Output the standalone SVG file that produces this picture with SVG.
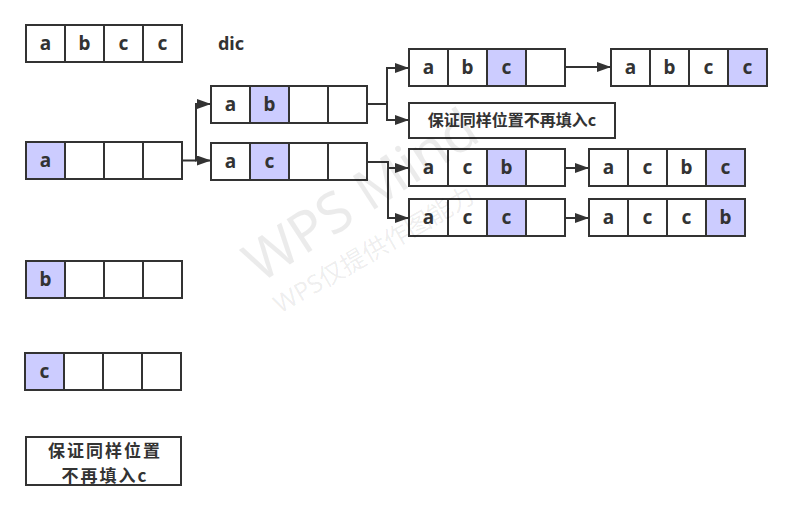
<svg xmlns="http://www.w3.org/2000/svg" width="791" height="509" viewBox="0 0 791 509">
<defs>
<style>
.c{fill:#fff;stroke:#333;stroke-width:2}
.h{fill:#ccccff;stroke:#333;stroke-width:2}
.t{font-family:"Noto Sans","Liberation Sans",sans-serif;font-weight:bold;font-size:19px;fill:#333;text-anchor:middle}
.n{font-family:"Noto Sans CJK SC","Noto Sans",sans-serif;font-weight:bold;fill:#333;text-anchor:middle}
.l{fill:none;stroke:#333;stroke-width:2}
.w{font-family:"Noto Sans","Noto Sans CJK SC",sans-serif;fill:#000;fill-opacity:0.08}
</style>
<marker id="ar" markerWidth="14" markerHeight="10" refX="14" refY="5" orient="auto" markerUnits="userSpaceOnUse">
<path d="M0,0 L14,5 L0,10 Z" fill="#333"/>
</marker>
</defs>
<rect width="791" height="509" fill="#fff"/>

<g id="arr-top">
<rect class="c" x="26" y="25" width="39" height="37"/><rect class="c" x="65" y="25" width="39" height="37"/><rect class="c" x="104" y="25" width="39" height="37"/><rect class="c" x="143" y="25" width="39" height="37"/>
<text class="t" x="45.5" y="50">a</text><text class="t" x="84.5" y="50">b</text><text class="t" x="123.5" y="50">c</text><text class="t" x="162.5" y="50">c</text>
</g>
<g id="dic"><text class="t" x="231" y="50" style="font-size:18px">dic</text></g>

<g id="arr-a">
<rect class="h" x="26" y="142" width="39" height="37"/><rect class="c" x="65" y="142" width="39" height="37"/><rect class="c" x="104" y="142" width="39" height="37"/><rect class="c" x="143" y="142" width="39" height="37"/>
<text class="t" x="45.5" y="167">a</text>
</g>
<g id="arr-b">
<rect class="h" x="26" y="261" width="39" height="37"/><rect class="c" x="65" y="261" width="39" height="37"/><rect class="c" x="104" y="261" width="39" height="37"/><rect class="c" x="143" y="261" width="39" height="37"/>
<text class="t" x="45.5" y="286">b</text>
</g>
<g id="arr-c">
<rect class="h" x="25" y="353" width="39" height="37"/><rect class="c" x="64" y="353" width="39" height="37"/><rect class="c" x="103" y="353" width="39" height="37"/><rect class="c" x="142" y="353" width="39" height="37"/>
<text class="t" x="44.5" y="378">c</text>
</g>
<g id="note-bottom">
<rect class="c" x="26" y="437" width="155" height="48"/>
<text class="n" font-size="17" letter-spacing="2"><tspan x="105" y="457">保证同样位置</tspan><tspan x="105" y="482">不再填入c</tspan></text>
</g>

<g id="arr-ab">
<rect class="c" x="211" y="86" width="39" height="37"/><rect class="h" x="250" y="86" width="39" height="37"/><rect class="c" x="289" y="86" width="39" height="37"/><rect class="c" x="328" y="86" width="39" height="37"/>
<text class="t" x="230.5" y="111">a</text><text class="t" x="269.5" y="111">b</text>
</g>
<g id="arr-ac">
<rect class="c" x="211" y="143" width="39" height="37"/><rect class="h" x="250" y="143" width="39" height="37"/><rect class="c" x="289" y="143" width="39" height="37"/><rect class="c" x="328" y="143" width="39" height="37"/>
<text class="t" x="230.5" y="168">a</text><text class="t" x="269.5" y="168">c</text>
</g>

<g id="arr-abc">
<rect class="c" x="409" y="49" width="39" height="37"/><rect class="c" x="448" y="49" width="39" height="37"/><rect class="h" x="487" y="49" width="39" height="37"/><rect class="c" x="526" y="49" width="39" height="37"/>
<text class="t" x="428.5" y="74">a</text><text class="t" x="467.5" y="74">b</text><text class="t" x="506.5" y="74">c</text>
</g>
<g id="arr-abcc">
<rect class="c" x="611" y="49" width="39" height="37"/><rect class="c" x="650" y="49" width="39" height="37"/><rect class="c" x="689" y="49" width="39" height="37"/><rect class="h" x="728" y="49" width="39" height="37"/>
<text class="t" x="630.5" y="74">a</text><text class="t" x="669.5" y="74">b</text><text class="t" x="708.5" y="74">c</text><text class="t" x="747.5" y="74">c</text>
</g>
<g id="note-top">
<rect class="c" x="409" y="103" width="206" height="35"/>
<text class="n" x="512" y="126" font-size="16">保证同样位置不再填入c</text>
</g>

<g id="arr-acb">
<rect class="c" x="409" y="149" width="39" height="37"/><rect class="c" x="448" y="149" width="39" height="37"/><rect class="h" x="487" y="149" width="39" height="37"/><rect class="c" x="526" y="149" width="39" height="37"/>
<text class="t" x="428.5" y="174">a</text><text class="t" x="467.5" y="174">c</text><text class="t" x="506.5" y="174">b</text>
</g>
<g id="arr-acbc">
<rect class="c" x="589" y="149" width="39" height="37"/><rect class="c" x="628" y="149" width="39" height="37"/><rect class="c" x="667" y="149" width="39" height="37"/><rect class="h" x="706" y="149" width="39" height="37"/>
<text class="t" x="608.5" y="174">a</text><text class="t" x="647.5" y="174">c</text><text class="t" x="686.5" y="174">b</text><text class="t" x="725.5" y="174">c</text>
</g>
<g id="arr-acc">
<rect class="c" x="409" y="199" width="39" height="37"/><rect class="c" x="448" y="199" width="39" height="37"/><rect class="h" x="487" y="199" width="39" height="37"/><rect class="c" x="526" y="199" width="39" height="37"/>
<text class="t" x="428.5" y="224">a</text><text class="t" x="467.5" y="224">c</text><text class="t" x="506.5" y="224">c</text>
</g>
<g id="arr-accb">
<rect class="c" x="589" y="199" width="39" height="37"/><rect class="c" x="628" y="199" width="39" height="37"/><rect class="c" x="667" y="199" width="39" height="37"/><rect class="h" x="706" y="199" width="39" height="37"/>
<text class="t" x="608.5" y="224">a</text><text class="t" x="647.5" y="224">c</text><text class="t" x="686.5" y="224">c</text><text class="t" x="725.5" y="224">b</text>
</g>

<g id="connectors">
<path class="l" d="M182,160.5 H196 M196,103 V161"/>
<path class="l" d="M195,104 H211" marker-end="url(#ar)"/>
<path class="l" d="M195,160.5 H211" marker-end="url(#ar)"/>
<path class="l" d="M367,104 H387 M387,67 V121"/>
<path class="l" d="M386,68 H409" marker-end="url(#ar)"/>
<path class="l" d="M386,120 H409" marker-end="url(#ar)"/>
<path class="l" d="M565,67 H611" marker-end="url(#ar)"/>
<path class="l" d="M367,162 H388 V219"/>
<path class="l" d="M387,168 H409" marker-end="url(#ar)"/>
<path class="l" d="M387,218 H409" marker-end="url(#ar)"/>
<path class="l" d="M565,168 H589" marker-end="url(#ar)"/>
<path class="l" d="M565,218 H589" marker-end="url(#ar)"/>
</g>

<g id="watermark">
<text class="w" x="0" y="0" font-size="56" transform="translate(260,284) rotate(-33)">WPS Mind</text>
<text class="w" x="0" y="0" font-size="25" transform="translate(280,314) rotate(-30)">WPS仅提供作图能力</text>
</g>
</svg>
